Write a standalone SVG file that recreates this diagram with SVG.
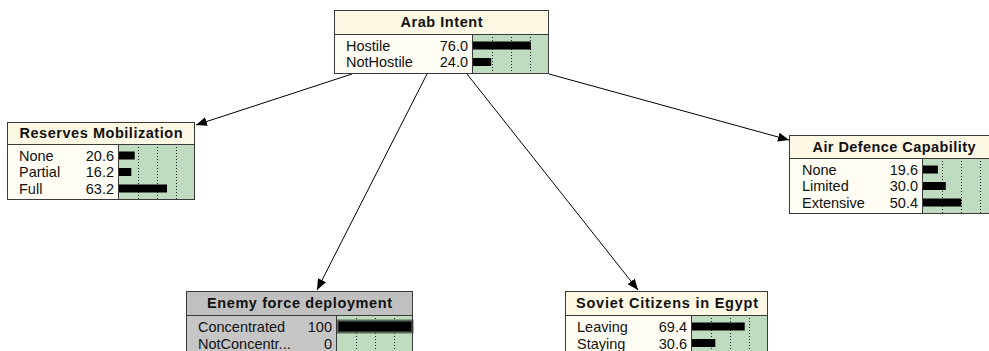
<svg xmlns="http://www.w3.org/2000/svg" width="989" height="351" viewBox="0 0 989 351">
<defs>
<marker id="ah" markerUnits="userSpaceOnUse" markerWidth="12" markerHeight="10" refX="11" refY="4.5" orient="auto"><path d="M0,0 L11,4.5 L0,9 z" fill="#000"/></marker>
</defs>
<style>
.body{fill:#fffdf4}
.title{fill:#fdf8e4}
.gbody{fill:#c6c6c6}
.gtitle{fill:#c0c0c0}
.bararea{fill:#c0dcc0}
.frame{fill:none;stroke:#3a3a3a;stroke-width:1}
.div{stroke:#3a3a3a;stroke-width:1}
.grid{stroke:#222;stroke-width:1;stroke-dasharray:1,2}
.bar{fill:#000}
.t{font-family:"Liberation Sans",Arial,sans-serif;font-size:14.5px;fill:#111}
.v{font-family:"Liberation Sans",Arial,sans-serif;font-size:14.5px;fill:#111;text-anchor:end}
.h{font-family:"Liberation Sans",Arial,sans-serif;font-size:14.5px;font-weight:bold;fill:#111;text-anchor:middle}
.edge{stroke:#000;stroke-width:1;fill:none;marker-end:url(#ah)}
</style>
<rect width="989" height="351" fill="#fff"/>

<g id="connectors">
<line class="edge" x1="352" y1="74" x2="196" y2="125"/>
<line class="edge" x1="427" y1="74" x2="317" y2="290"/>
<line class="edge" x1="467" y1="74" x2="638" y2="290"/>
<line class="edge" x1="549" y1="74" x2="789" y2="140"/>
</g>

<g id="arab-intent">
<rect class="body" x="334" y="10" width="215" height="64"/>
<rect class="title" x="334" y="10" width="215" height="24"/>
<rect class="bararea" x="473" y="34" width="76" height="40"/>
<line class="grid" x1="492.5" y1="34" x2="492.5" y2="74"/>
<line class="grid" x1="511.5" y1="34" x2="511.5" y2="74"/>
<line class="grid" x1="530.5" y1="34" x2="530.5" y2="74"/>
<rect class="bar" x="473" y="41.5" width="57.8" height="8"/>
<rect class="bar" x="473" y="58" width="18.2" height="8"/>
<line class="div" x1="334" y1="34.5" x2="549" y2="34.5"/>
<line class="div" x1="472.5" y1="34" x2="472.5" y2="74"/>
<rect class="frame" x="334.5" y="10.5" width="214" height="63"/>
<text class="h" x="441.5" y="27" textLength="82" lengthAdjust="spacing">Arab Intent</text>
<text class="t" x="346" y="50.5">Hostile</text><text class="v" x="468" y="50.5">76.0</text>
<text class="t" x="346" y="67">NotHostile</text><text class="v" x="468" y="67">24.0</text>
</g>

<g id="reserves-mobilization">
<rect class="body" x="7" y="122" width="188" height="78"/>
<rect class="title" x="7" y="122" width="188" height="22"/>
<rect class="bararea" x="119" y="144" width="76" height="56"/>
<line class="grid" x1="138.5" y1="144" x2="138.5" y2="200"/>
<line class="grid" x1="157.5" y1="144" x2="157.5" y2="200"/>
<line class="grid" x1="176.5" y1="144" x2="176.5" y2="200"/>
<rect class="bar" x="119" y="151.5" width="15.7" height="8"/>
<rect class="bar" x="119" y="168" width="12.3" height="8"/>
<rect class="bar" x="119" y="184.5" width="48" height="8"/>
<line class="div" x1="7" y1="144.5" x2="195" y2="144.5"/>
<line class="div" x1="118.5" y1="144" x2="118.5" y2="200"/>
<rect class="frame" x="7.5" y="122.5" width="187" height="77"/>
<text class="h" x="101" y="138" textLength="163" lengthAdjust="spacing">Reserves Mobilization</text>
<text class="t" x="19" y="160.5">None</text><text class="v" x="114" y="160.5">20.6</text>
<text class="t" x="19" y="177">Partial</text><text class="v" x="114" y="177">16.2</text>
<text class="t" x="19" y="193.5">Full</text><text class="v" x="114" y="193.5">63.2</text>
</g>

<g id="air-defence-capability">
<rect class="body" x="789" y="135" width="210" height="79"/>
<rect class="title" x="789" y="135" width="210" height="23"/>
<rect class="bararea" x="923" y="158" width="76" height="56"/>
<line class="grid" x1="942.5" y1="158" x2="942.5" y2="214"/>
<line class="grid" x1="961.5" y1="158" x2="961.5" y2="214"/>
<line class="grid" x1="980.5" y1="158" x2="980.5" y2="214"/>
<rect class="bar" x="923" y="165.5" width="14.9" height="8"/>
<rect class="bar" x="923" y="182" width="22.8" height="8"/>
<rect class="bar" x="923" y="198.5" width="38.3" height="8"/>
<line class="div" x1="789" y1="158.5" x2="999" y2="158.5"/>
<line class="div" x1="922.5" y1="158" x2="922.5" y2="214"/>
<rect class="frame" x="789.5" y="135.5" width="210" height="78"/>
<text class="h" x="894" y="151.5" textLength="163" lengthAdjust="spacing">Air Defence Capability</text>
<text class="t" x="802" y="174.5">None</text><text class="v" x="918" y="174.5">19.6</text>
<text class="t" x="802" y="191">Limited</text><text class="v" x="918" y="191">30.0</text>
<text class="t" x="802" y="207.5">Extensive</text><text class="v" x="918" y="207.5">50.4</text>
</g>

<g id="enemy-force-deployment">
<rect class="gbody" x="186" y="291" width="227" height="70"/>
<rect class="gtitle" x="186" y="291" width="227" height="24"/>
<rect class="bararea" x="337" y="315" width="76" height="46"/>
<line class="grid" x1="356.5" y1="315" x2="356.5" y2="361"/>
<line class="grid" x1="375.5" y1="315" x2="375.5" y2="361"/>
<line class="grid" x1="394.5" y1="315" x2="394.5" y2="361"/>
<rect x="337.5" y="320.5" width="75" height="12" fill="#000" stroke="#5a6a5a" stroke-width="2"/>
<line class="div" x1="186" y1="315.5" x2="413" y2="315.5"/>
<line class="div" x1="336.5" y1="315" x2="336.5" y2="361"/>
<rect class="frame" x="186.5" y="291.5" width="226" height="70"/>
<text class="h" x="299.5" y="308" textLength="185" lengthAdjust="spacing">Enemy force deployment</text>
<text class="t" x="198" y="332">Concentrated</text><text class="v" x="332" y="332">100</text>
<text class="t" x="198" y="348.5">NotConcentr...</text><text class="v" x="332" y="348.5">0</text>
</g>

<g id="soviet-citizens-in-egypt">
<rect class="body" x="565" y="291" width="203" height="70"/>
<rect class="title" x="565" y="291" width="203" height="24"/>
<rect class="bararea" x="692" y="315" width="76" height="46"/>
<line class="grid" x1="711.5" y1="315" x2="711.5" y2="361"/>
<line class="grid" x1="730.5" y1="315" x2="730.5" y2="361"/>
<line class="grid" x1="749.5" y1="315" x2="749.5" y2="361"/>
<rect class="bar" x="692" y="322.5" width="52.7" height="8"/>
<rect class="bar" x="692" y="339" width="23.3" height="8"/>
<line class="div" x1="565" y1="315.5" x2="768" y2="315.5"/>
<line class="div" x1="691.5" y1="315" x2="691.5" y2="361"/>
<rect class="frame" x="565.5" y="291.5" width="202" height="70"/>
<text class="h" x="667" y="308" textLength="182" lengthAdjust="spacing">Soviet Citizens in Egypt</text>
<text class="t" x="577" y="332">Leaving</text><text class="v" x="687" y="332">69.4</text>
<text class="t" x="577" y="348.5">Staying</text><text class="v" x="687" y="348.5">30.6</text>
</g>
</svg>
